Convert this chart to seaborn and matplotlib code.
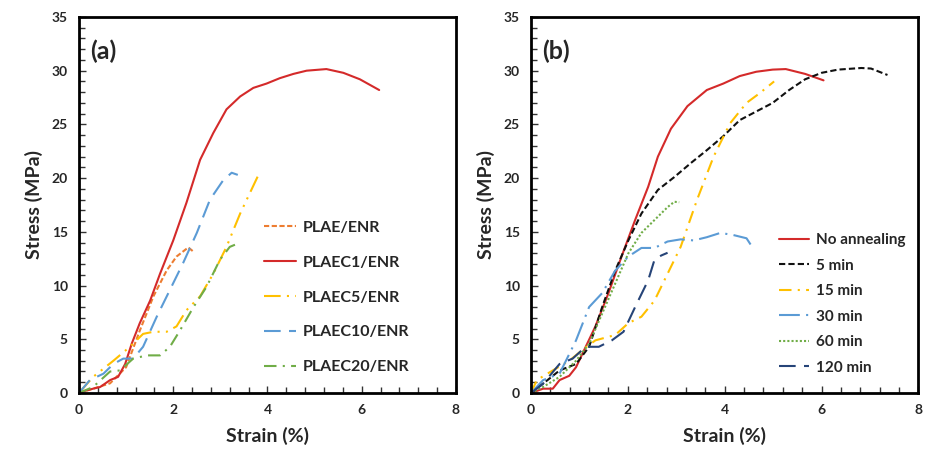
import pandas as pd
import seaborn as sns
import matplotlib.pyplot as plt
from matplotlib.ticker import MultipleLocator

# Curvas esfuerzo-deformación, (a) composiciones y (b) tiempos de recocido

plae_x = [0, 0.3, 0.66, 1.0, 1.29, 1.58, 1.86, 2.07, 2.32, 2.43]
plae_y = [0, 0.4, 0.9, 2.4, 5.8, 9.0, 11.4, 12.7, 13.55, 13.15]

c1_x = [0, 0.16, 0.45, 0.66, 0.83, 0.98, 1.12, 1.29, 1.51, 1.72, 2.0, 2.28, 2.57, 2.85,
        3.13, 3.42, 3.7, 3.98, 4.26, 4.55, 4.83, 5.25, 5.61, 5.96, 6.37]
c1_y = [0, 0.25, 0.56, 1.2, 1.5, 2.7, 4.6, 6.5, 8.6, 11.1, 14.2, 17.7, 21.7, 24.2,
        26.4, 27.6, 28.4, 28.8, 29.3, 29.7, 30.0, 30.15, 29.8, 29.2, 28.2]

c5_x = [0, 0.3, 0.73, 1.08, 1.36, 1.58, 1.86, 2.07, 2.28, 2.57, 2.85, 3.13, 3.42, 3.83]
c5_y = [0, 1.5, 3.0, 4.3, 5.5, 5.7, 5.7, 6.2, 7.7, 9.0, 11.1, 13.6, 16.7, 20.5]

c10_x = [0, 0.23, 0.52, 0.73, 0.94, 1.15, 1.36, 1.65, 1.93, 2.21, 2.5, 2.78, 3.06, 3.24, 3.37]
c10_y = [0, 1.2, 1.8, 2.7, 3.2, 3.2, 4.3, 7.1, 9.6, 12.1, 14.9, 18.0, 19.8, 20.5, 20.3]

c20_x = [0, 0.3, 0.66, 0.87, 1.15, 1.44, 1.72, 1.93, 2.14, 2.43, 2.71, 2.99, 3.2, 3.31]
c20_y = [0, 0.56, 2.0, 2.1, 3.2, 3.5, 3.5, 4.3, 5.8, 8.0, 9.9, 12.4, 13.6, 13.8]

na_x = [0, 0.25, 0.45, 0.59, 0.79, 0.93, 1.13, 1.33, 1.6, 1.87, 2.15, 2.42, 2.62, 2.89,
        3.23, 3.63, 3.97, 4.31, 4.65, 4.99, 5.26, 5.66, 6.04]
na_y = [0, 0.4, 0.4, 1.2, 1.6, 2.4, 4.3, 6.2, 9.3, 12.7, 16.1, 19.2, 22.0, 24.6,
        26.7, 28.2, 28.8, 29.5, 29.9, 30.1, 30.15, 29.7, 29.1]

m5_x = [0, 0.25, 0.59, 0.93, 1.2, 1.47, 1.74, 2.01, 2.28, 2.62, 2.96, 3.3, 3.63, 3.97,
        4.31, 4.65, 4.99, 5.33, 5.66, 6.0, 6.34, 6.82, 7.02, 7.36]
m5_y = [0, 0.87, 2.1, 2.7, 4.3, 8.0, 11.4, 14.2, 16.7, 18.9, 20.1, 21.4, 22.6, 23.9,
        25.4, 26.2, 27.0, 28.2, 29.2, 29.8, 30.1, 30.25, 30.2, 29.6]

m15_x = [0, 0.12, 0.45, 0.79, 1.06, 1.33, 1.74, 2.01, 2.28, 2.55, 2.82, 3.09, 3.43,
         3.77, 4.11, 4.45, 4.72, 5.02]
m15_y = [0, 1.2, 2.1, 3.0, 4.0, 4.9, 5.4, 6.5, 7.1, 8.6, 11.1, 13.6, 18.0,
         22.0, 25.1, 27.0, 27.9, 29.0]

m30_x = [0, 0.25, 0.59, 0.93, 1.2, 1.47, 1.74, 2.01, 2.28, 2.55, 2.82, 3.09, 3.36,
         3.63, 3.91, 4.18, 4.45, 4.58]
m30_y = [0, 1.2, 1.8, 4.9, 8.0, 9.3, 11.4, 12.7, 13.5, 13.5, 14.1, 14.3, 14.2,
         14.5, 14.9, 14.7, 14.4, 13.5]

m60_x = [0, 0.25, 0.59, 0.93, 1.2, 1.47, 1.74, 2.01, 2.28, 2.55, 2.82, 2.96, 3.06]
m60_y = [0, 0.56, 1.5, 3.0, 4.6, 7.4, 10.2, 13.0, 14.9, 16.1, 17.3, 17.8, 17.75]

m120_x = [0, 0.25, 0.59, 0.86, 1.13, 1.4, 1.67, 1.91, 2.15, 2.42, 2.55, 2.69, 2.82]
m120_y = [0, 0.87, 2.7, 3.2, 4.3, 4.3, 4.9, 5.7, 8.0, 10.5, 12.4, 12.8, 13.05]

panel_a = [
    ("PLAE/ENR", plae_x, plae_y, "#ED7D31", (2.5, 1.2)),
    ("PLAEC1/ENR", c1_x, c1_y, "#D42A2A", None),
    ("PLAEC5/ENR", c5_x, c5_y, "#FFC000", (8, 3, 1, 3, 1, 3)),
    ("PLAEC10/ENR", c10_x, c10_y, "#5B9BD5", (8, 4)),
    ("PLAEC20/ENR", c20_x, c20_y, "#70AD47", (6, 3, 1, 3)),
]
panel_b = [
    ("No annealing", na_x, na_y, "#D42A2A", None),
    ("5 min", m5_x, m5_y, "#111111", (3, 1.5)),
    ("15 min", m15_x, m15_y, "#FFC000", (6, 3, 1, 3)),
    ("30 min", m30_x, m30_y, "#5B9BD5", (10, 3, 1, 3)),
    ("60 min", m60_x, m60_y, "#70AD47", (1, 1)),
    ("120 min", m120_x, m120_y, "#264478", (8, 4)),
]

sns.set_theme(style="white")
plt.rcParams['font.family'] = ['Lato', 'DejaVu Sans']
plt.rcParams['font.weight'] = 'bold'

fig = plt.figure(figsize=(9.27, 4.5), dpi=100)
ax_a = fig.add_axes([0.0852, 0.1267, 0.4067, 0.8356])
ax_b = fig.add_axes([0.5728, 0.1267, 0.418, 0.8356])


def draw(ax, series, tag, leg_anchor, leg_space, leg_size):
    for name, xs, ys, col, dash in series:
        df = pd.DataFrame({'x': xs, 'y': ys})
        sns.lineplot(data=df, x='x', y='y', ax=ax, color=col, linewidth=1.5,
                     sort=False, estimator=None, label=name)
        if dash is not None:
            ax.lines[-1].set_dashes(dash)
    ax.set_xlim(0, 8)
    ax.set_ylim(0, 35)
    ax.xaxis.set_major_locator(MultipleLocator(2))
    ax.xaxis.set_minor_locator(MultipleLocator(0.4))
    ax.yaxis.set_major_locator(MultipleLocator(5))
    ax.yaxis.set_minor_locator(MultipleLocator(1))
    ax.tick_params(which='both', direction='in', bottom=True, left=True,
                   top=False, right=False, width=1, color='#333333')
    ax.tick_params(which='major', length=5, labelsize=10, pad=8)
    ax.tick_params(which='minor', length=4)
    for lab in ax.get_xticklabels() + ax.get_yticklabels():
        lab.set_fontweight('bold')
    for sp in ax.spines.values():
        sp.set_color('black')
        sp.set_linewidth(2)
    ax.set_xlabel('Strain (%)', fontsize=14, fontweight='bold', labelpad=8)
    ax.set_ylabel('Stress (MPa)', fontsize=14, fontweight='bold', labelpad=6)
    ax.text(0.03, 0.94, tag, transform=ax.transAxes, fontsize=18,
            fontweight='bold', va='top')
    ax.legend(loc='upper left', bbox_to_anchor=leg_anchor, frameon=False,
              fontsize=leg_size, handlelength=2.0, handletextpad=0.4,
              labelspacing=leg_space, borderpad=0)


draw(ax_a, panel_a, '(a)', (0.47, 0.48), 1.3, 11.5)
draw(ax_b, panel_b, '(b)', (0.62, 0.445), 0.75, 11)

fig.savefig('out.png', dpi=100)
